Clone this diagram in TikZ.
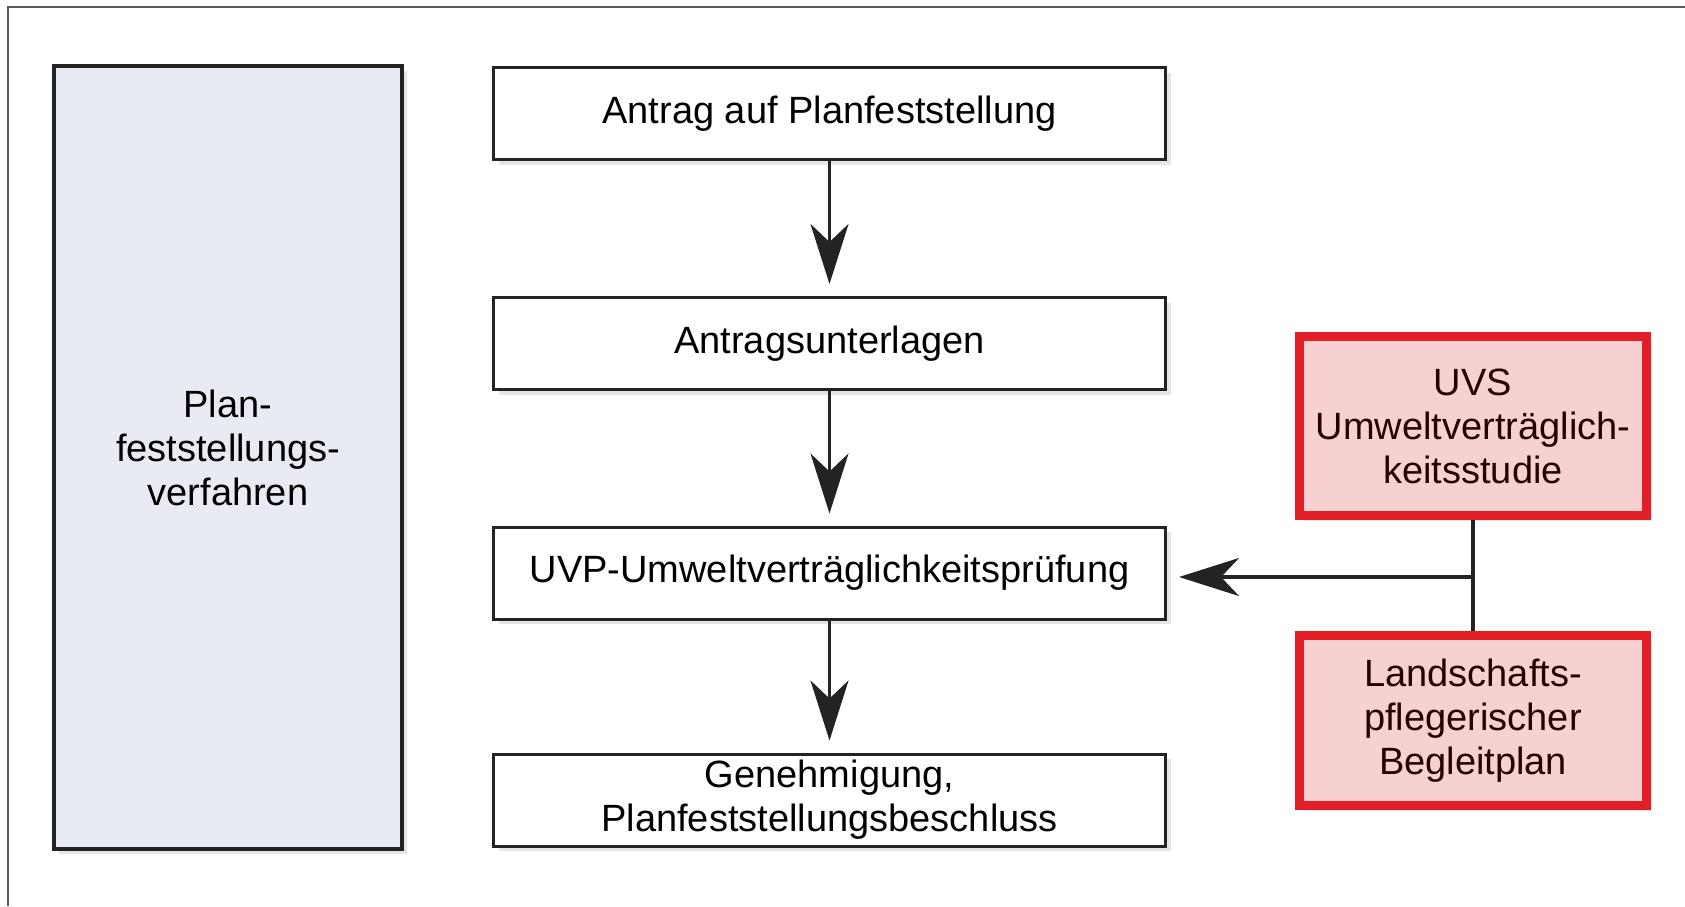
\documentclass[tikz,border=0pt]{standalone}
\usepackage{fontspec}
\setmainfont{Liberation Sans}
\usetikzlibrary{arrows.meta,shadows}
\definecolor{panelfill}{RGB}{233,235,244}
\definecolor{uvsred}{RGB}{226,30,38}
\definecolor{uvsfill}{RGB}{247,208,210}
\definecolor{frameg}{RGB}{90,90,90}
\definecolor{inkg}{RGB}{35,35,35}
\tikzset{
	boxshadow/.style={drop shadow={shadow xshift=2.5pt,shadow yshift=-2.5pt,fill=black!20}},
	stepbox/.style={draw=inkg, line width=1.5pt, fill=white, minimum width=336pt, minimum height=46pt, align=center, inner sep=2pt, boxshadow},
	panelbox/.style={draw=inkg, line width=2pt, fill=panelfill, minimum width=174pt, minimum height=391.5pt, align=center, text depth=10pt, boxshadow},
	redbox/.style={draw=uvsred, line width=4.5pt, fill=uvsfill, minimum width=173.5pt, align=center, inner sep=2pt, text=black!85!red, boxshadow},
	flow/.style={inkg, line width=1.6pt, -{Stealth[length=30pt,width=19pt,inset=9pt]}, shorten >=6pt},
}
\begin{document}
\begin{tikzpicture}[x=0.5pt,y=-0.5pt,font=\fontsize{19}{22}\selectfont]
	\useasboundingbox (0,0) rectangle (1685,906);
	\draw [frameg, line width=1.2pt] (8,906) -- (8,7) -- (1685,7);
	% linke Spalte
	\node [panelbox] (verf) at (228,457.5) {Plan-\\feststellungs-\\verfahren};
	% Ablauf
	\node [stepbox] (antrag) at (829.5,113.5) {Antrag auf Planfeststellung};
	\node [stepbox] (unterl) at (829.5,343.5) {Antragsunterlagen};
	\node [stepbox] (uvp) at (829.5,573) {UVP-Umweltverträglichkeitsprüfung};
	\node [stepbox] (genehm) at (829.5,800) {Genehmigung,\\Planfeststellungsbeschluss};
	\draw [flow] (antrag) -- (unterl);
	\draw [flow] (unterl) -- (uvp);
	\draw [flow] (uvp) -- (genehm);
	% Fachbeitraege
	\node [redbox, minimum height=89.5pt] (uvs) at (1473,426) {UVS\\Umweltverträglich-\\keitsstudie};
	\node [redbox, minimum height=85pt] (lbp) at (1473,720.5) {Landschafts-\\pflegerischer\\Begleitplan};
	\draw [inkg, line width=1.6pt] (uvs) -- (lbp);
	\coordinate (join) at (uvs.south |- 0,577);
	\draw [flow] (join) -- (uvp.east |- join);
\end{tikzpicture}
\end{document}
